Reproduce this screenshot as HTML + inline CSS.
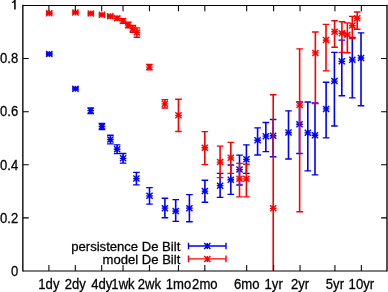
<!DOCTYPE html>
<html><head><meta charset="utf-8"><title>chart</title>
<style>html,body{margin:0;padding:0;background:#fff;width:388px;height:292px;overflow:hidden}svg{display:block;will-change:transform;font-family:"Liberation Sans",sans-serif}</style>
</head><body>
<svg width="388" height="292" viewBox="0 0 388 292">
<rect width="388" height="292" fill="#fff"/>
<path d="M49.25 53.00V55.00M75.45 87.50V89.90M90.70 107.80V113.50M101.90 123.50V129.50M110.40 135.20V143.80M117.10 144.80V153.60M123.10 153.50V163.10M136.40 172.40V184.80M149.50 187.55V204.05M164.90 198.25V217.70M175.70 199.60V221.35M189.40 194.60V221.70M204.90 180.20V202.20M220.10 173.30V197.40M230.80 165.00V194.30M239.50 155.10V185.00M246.40 144.80V173.30M257.60 127.80V155.00M265.85 122.50V151.60M273.10 119.50V156.70M288.50 110.80V159.00M299.50 101.80V153.50M307.80 102.00V170.90M315.00 103.00V174.90M326.10 82.20V137.90M334.40 52.40V126.00M341.80 40.10V95.70M352.30 37.40V97.90M361.00 32.80V105.70" stroke="#0000ff" stroke-width="1.6" fill="none"/><path d="M45.95 53.00H52.55M45.95 55.00H52.55M45.95 54.00H52.55M49.25 51.00V57.00M46.15 51.00L52.35 57.00M46.15 57.00L52.35 51.00M72.15 87.50H78.75M72.15 89.90H78.75M72.15 88.70H78.75M75.45 85.70V91.70M72.35 85.70L78.55 91.70M72.35 91.70L78.55 85.70M87.40 107.80H94.00M87.40 113.50H94.00M87.40 110.65H94.00M90.70 107.65V113.65M87.60 107.65L93.80 113.65M87.60 113.65L93.80 107.65M98.60 123.50H105.20M98.60 129.50H105.20M98.60 126.50H105.20M101.90 123.50V129.50M98.80 123.50L105.00 129.50M98.80 129.50L105.00 123.50M107.10 135.20H113.70M107.10 143.80H113.70M107.10 139.50H113.70M110.40 136.50V142.50M107.30 136.50L113.50 142.50M107.30 142.50L113.50 136.50M113.80 144.80H120.40M113.80 153.60H120.40M113.80 149.20H120.40M117.10 146.20V152.20M114.00 146.20L120.20 152.20M114.00 152.20L120.20 146.20M119.80 153.50H126.40M119.80 163.10H126.40M119.80 158.30H126.40M123.10 155.30V161.30M120.00 155.30L126.20 161.30M120.00 161.30L126.20 155.30M133.10 172.40H139.70M133.10 184.80H139.70M133.10 178.60H139.70M136.40 175.60V181.60M133.30 175.60L139.50 181.60M133.30 181.60L139.50 175.60M146.20 187.55H152.80M146.20 204.05H152.80M146.20 195.80H152.80M149.50 192.80V198.80M146.40 192.80L152.60 198.80M146.40 198.80L152.60 192.80M161.60 198.25H168.20M161.60 217.70H168.20M161.60 208.15H168.20M164.90 205.15V211.15M161.80 205.15L168.00 211.15M161.80 211.15L168.00 205.15M172.40 199.60H179.00M172.40 221.35H179.00M172.40 210.95H179.00M175.70 207.95V213.95M172.60 207.95L178.80 213.95M172.60 213.95L178.80 207.95M186.10 194.60H192.70M186.10 221.70H192.70M186.10 208.15H192.70M189.40 205.15V211.15M186.30 205.15L192.50 211.15M186.30 211.15L192.50 205.15M201.60 180.20H208.20M201.60 202.20H208.20M201.60 191.10H208.20M204.90 188.10V194.10M201.80 188.10L208.00 194.10M201.80 194.10L208.00 188.10M216.80 173.30H223.40M216.80 197.40H223.40M216.80 185.65H223.40M220.10 182.65V188.65M217.00 182.65L223.20 188.65M217.00 188.65L223.20 182.65M227.50 165.00H234.10M227.50 194.30H234.10M227.50 179.70H234.10M230.80 176.70V182.70M227.70 176.70L233.90 182.70M227.70 182.70L233.90 176.70M236.20 155.10H242.80M236.20 185.00H242.80M236.20 169.60H242.80M239.50 166.60V172.60M236.40 166.60L242.60 172.60M236.40 172.60L242.60 166.60M243.10 144.80H249.70M243.10 173.30H249.70M243.10 159.30H249.70M246.40 156.30V162.30M243.30 156.30L249.50 162.30M243.30 162.30L249.50 156.30M254.30 127.80H260.90M254.30 155.00H260.90M254.30 140.20H260.90M257.60 137.20V143.20M254.50 137.20L260.70 143.20M254.50 143.20L260.70 137.20M262.55 122.50H269.15M262.55 151.60H269.15M262.55 136.15H269.15M265.85 133.15V139.15M262.75 133.15L268.95 139.15M262.75 139.15L268.95 133.15M269.80 119.50H276.40M269.80 156.70H276.40M269.80 135.70H276.40M273.10 132.70V138.70M270.00 132.70L276.20 138.70M270.00 138.70L276.20 132.70M285.20 110.80H291.80M285.20 159.00H291.80M285.20 132.60H291.80M288.50 129.60V135.60M285.40 129.60L291.60 135.60M285.40 135.60L291.60 129.60M296.20 101.80H302.80M296.20 153.50H302.80M296.20 124.20H302.80M299.50 121.20V127.20M296.40 121.20L302.60 127.20M296.40 127.20L302.60 121.20M304.50 102.00H311.10M304.50 170.90H311.10M304.50 132.80H311.10M307.80 129.80V135.80M304.70 129.80L310.90 135.80M304.70 135.80L310.90 129.80M311.70 103.00H318.30M311.70 174.90H318.30M311.70 135.20H318.30M315.00 132.20V138.20M311.90 132.20L318.10 138.20M311.90 138.20L318.10 132.20M322.80 82.20H329.40M322.80 137.90H329.40M322.80 108.90H329.40M326.10 105.90V111.90M323.00 105.90L329.20 111.90M323.00 111.90L329.20 105.90M331.10 52.40H337.70M331.10 126.00H337.70M331.10 81.10H337.70M334.40 78.10V84.10M331.30 78.10L337.50 84.10M331.30 84.10L337.50 78.10M338.50 40.10H345.10M338.50 95.70H345.10M338.50 61.30H345.10M341.80 58.30V64.30M338.70 58.30L344.90 64.30M338.70 64.30L344.90 58.30M349.00 37.40H355.60M349.00 97.90H355.60M349.00 59.80H355.60M352.30 56.80V62.80M349.20 56.80L355.40 62.80M349.20 62.80L355.40 56.80M357.70 32.80H364.30M357.70 105.70H364.30M357.70 58.00H364.30M361.00 55.00V61.00M357.90 55.00L364.10 61.00M357.90 61.00L364.10 55.00" stroke="#0000ff" stroke-width="1.35" fill="none"/>
<path d="M49.25 12.20V14.20M75.45 11.50V13.60M90.80 12.30V14.50M101.95 13.60V16.00M110.30 14.90V17.70M117.20 16.50V20.10M123.00 18.60V23.20M128.20 22.10V27.90M132.90 25.40V32.20M136.90 27.90V37.20M149.40 64.40V69.80M164.85 99.60V108.00M178.45 99.20V131.50M204.80 131.55V164.55M220.10 146.05V177.60M230.80 142.30V173.30M239.50 163.40V196.80M246.40 164.20V196.80M273.20 94.70V271.00M299.65 48.80V211.70M315.35 32.00V103.50M326.00 24.40V70.80M334.60 20.70V47.25M341.90 21.70V52.45M347.35 22.90V52.70M352.30 16.40V38.60M357.20 12.00V29.20" stroke="#ff0000" stroke-width="1.6" fill="none"/><path d="M45.95 12.20H52.55M45.95 14.20H52.55M45.95 13.20H52.55M49.25 10.20V16.20M46.15 10.20L52.35 16.20M46.15 16.20L52.35 10.20M72.15 11.50H78.75M72.15 13.60H78.75M72.15 12.55H78.75M75.45 9.55V15.55M72.35 9.55L78.55 15.55M72.35 15.55L78.55 9.55M87.50 12.30H94.10M87.50 14.50H94.10M87.50 13.40H94.10M90.80 10.40V16.40M87.70 10.40L93.90 16.40M87.70 16.40L93.90 10.40M98.65 13.60H105.25M98.65 16.00H105.25M98.65 14.80H105.25M101.95 11.80V17.80M98.85 11.80L105.05 17.80M98.85 17.80L105.05 11.80M107.00 14.90H113.60M107.00 17.70H113.60M107.00 16.30H113.60M110.30 13.30V19.30M107.20 13.30L113.40 19.30M107.20 19.30L113.40 13.30M113.90 16.50H120.50M113.90 20.10H120.50M113.90 18.30H120.50M117.20 15.30V21.30M114.10 15.30L120.30 21.30M114.10 21.30L120.30 15.30M119.70 18.60H126.30M119.70 23.20H126.30M119.70 20.90H126.30M123.00 17.90V23.90M119.90 17.90L126.10 23.90M119.90 23.90L126.10 17.90M124.90 22.10H131.50M124.90 27.90H131.50M124.90 25.00H131.50M128.20 22.00V28.00M125.10 22.00L131.30 28.00M125.10 28.00L131.30 22.00M129.60 25.40H136.20M129.60 32.20H136.20M129.60 28.80H136.20M132.90 25.80V31.80M129.80 25.80L136.00 31.80M129.80 31.80L136.00 25.80M133.60 27.90H140.20M133.60 37.20H140.20M133.60 32.50H140.20M136.90 29.50V35.50M133.80 29.50L140.00 35.50M133.80 35.50L140.00 29.50M146.10 64.40H152.70M146.10 69.80H152.70M146.10 67.10H152.70M149.40 64.10V70.10M146.30 64.10L152.50 70.10M146.30 70.10L152.50 64.10M161.55 99.60H168.15M161.55 108.00H168.15M161.55 103.80H168.15M164.85 100.80V106.80M161.75 100.80L167.95 106.80M161.75 106.80L167.95 100.80M175.15 99.20H181.75M175.15 131.50H181.75M175.15 115.35H181.75M178.45 112.35V118.35M175.35 112.35L181.55 118.35M175.35 118.35L181.55 112.35M201.50 131.55H208.10M201.50 164.55H208.10M201.50 147.70H208.10M204.80 144.70V150.70M201.70 144.70L207.90 150.70M201.70 150.70L207.90 144.70M216.80 146.05H223.40M216.80 177.60H223.40M216.80 162.10H223.40M220.10 159.10V165.10M217.00 159.10L223.20 165.10M217.00 165.10L223.20 159.10M227.50 142.30H234.10M227.50 173.30H234.10M227.50 157.80H234.10M230.80 154.80V160.80M227.70 154.80L233.90 160.80M227.70 160.80L233.90 154.80M236.20 163.40H242.80M236.20 196.80H242.80M236.20 178.85H242.80M239.50 175.85V181.85M236.40 175.85L242.60 181.85M236.40 181.85L242.60 175.85M243.10 164.20H249.70M243.10 196.80H249.70M243.10 178.85H249.70M246.40 175.85V181.85M243.30 175.85L249.50 181.85M243.30 181.85L249.50 175.85M269.90 94.70H276.50M269.90 208.30H276.50M273.20 205.30V211.30M270.10 205.30L276.30 211.30M270.10 211.30L276.30 205.30M296.35 48.80H302.95M296.35 211.70H302.95M296.35 105.10H302.95M299.65 102.10V108.10M296.55 102.10L302.75 108.10M296.55 108.10L302.75 102.10M312.05 32.00H318.65M312.05 103.50H318.65M312.05 52.90H318.65M315.35 49.90V55.90M312.25 49.90L318.45 55.90M312.25 55.90L318.45 49.90M322.70 24.40H329.30M322.70 70.80H329.30M322.70 40.10H329.30M326.00 37.10V43.10M322.90 37.10L329.10 43.10M322.90 43.10L329.10 37.10M331.30 20.70H337.90M331.30 47.25H337.90M331.30 31.75H337.90M334.60 28.75V34.75M331.50 28.75L337.70 34.75M331.50 34.75L337.70 28.75M338.60 21.70H345.20M338.60 52.45H345.20M338.60 33.20H345.20M341.90 30.20V36.20M338.80 30.20L345.00 36.20M338.80 36.20L345.00 30.20M344.05 22.90H350.65M344.05 52.70H350.65M344.05 34.80H350.65M347.35 31.80V37.80M344.25 31.80L350.45 37.80M344.25 37.80L350.45 31.80M349.00 16.40H355.60M349.00 38.60H355.60M349.00 25.60H355.60M352.30 22.60V28.60M349.20 22.60L355.40 28.60M349.20 28.60L355.40 22.60M353.90 12.00H360.50M353.90 29.20H360.50M353.90 18.20H360.50M357.20 15.20V21.20M354.10 15.20L360.30 21.20M354.10 21.20L360.30 15.20" stroke="#ff0000" stroke-width="1.35" fill="none"/>
<path d="M188.5 246.0H226.0M188.5 242.7V249.3M226.0 242.7V249.3M204.00 246.00H210.60M207.30 243.00V249.00M204.20 243.00L210.40 249.00M204.20 249.00L210.40 243.00" stroke="#0000ff" stroke-width="1.4" fill="none"/>
<path d="M188.5 258.9H226.0M188.5 255.59999999999997V262.2M226.0 255.59999999999997V262.2M204.00 258.90H210.60M207.30 255.90V261.90M204.20 255.90L210.40 261.90M204.20 261.90L210.40 255.90" stroke="#ff0000" stroke-width="1.4" fill="none"/>
<path d="M22.85 4.8500000000000005V271.6M387.0 4.8500000000000005V271.6" stroke="#000" stroke-width="1.35" fill="none"/>
<path d="M22.85 5.45H387.0M22.85 271.0H387.0" stroke="#000" stroke-width="1.12" fill="none"/>
<path d="M48.90 271.0V265.1M48.90 5.45V11.350000000000001M75.30 271.0V265.1M75.30 5.45V11.350000000000001M101.70 271.0V265.1M101.70 5.45V11.350000000000001M123.02 271.0V265.1M123.02 5.45V11.350000000000001M149.42 271.0V265.1M149.42 5.45V11.350000000000001M178.44 271.0V265.1M178.44 5.45V11.350000000000001M204.84 271.0V265.1M204.84 5.45V11.350000000000001M246.69 271.0V265.1M246.69 5.45V11.350000000000001M273.64 271.0V265.1M273.64 5.45V11.350000000000001M300.04 271.0V265.1M300.04 5.45V11.350000000000001M334.93 271.0V265.1M334.93 5.45V11.350000000000001M361.34 271.0V265.1M361.34 5.45V11.350000000000001M22.85 217.89H28.75M387.0 217.89H381.1M22.85 164.78H28.75M387.0 164.78H381.1M22.85 111.67H28.75M387.0 111.67H381.1M22.85 58.56H28.75M387.0 58.56H381.1" stroke="#000" stroke-width="1.05" fill="none"/>
<g font-family="Liberation Sans, sans-serif" font-size="14.5px" fill="#000" stroke="#000" stroke-width="0.28">
<text transform="translate(18.20 275.75) scale(0.9 1)" text-anchor="end">0</text>
<text transform="translate(18.20 222.64) scale(0.9 1)" text-anchor="end">0.2</text>
<text transform="translate(18.20 169.53) scale(0.9 1)" text-anchor="end">0.4</text>
<text transform="translate(18.20 116.42) scale(0.9 1)" text-anchor="end">0.6</text>
<text transform="translate(18.20 63.31) scale(0.9 1)" text-anchor="end">0.8</text>
<text transform="translate(48.90 289.40) scale(0.905 1)" text-anchor="middle">1dy</text>
<text transform="translate(75.30 289.40) scale(0.905 1)" text-anchor="middle">2dy</text>
<text transform="translate(101.70 289.40) scale(0.905 1)" text-anchor="middle">4dy</text>
<text transform="translate(123.02 289.40) scale(0.905 1)" text-anchor="middle">1wk</text>
<text transform="translate(149.42 289.40) scale(0.905 1)" text-anchor="middle">2wk</text>
<text transform="translate(178.44 289.40) scale(0.905 1)" text-anchor="middle">1mo</text>
<text transform="translate(204.84 289.40) scale(0.905 1)" text-anchor="middle">2mo</text>
<text transform="translate(246.69 289.40) scale(0.905 1)" text-anchor="middle">6mo</text>
<text transform="translate(273.64 289.40) scale(0.905 1)" text-anchor="middle">1yr</text>
<text transform="translate(300.04 289.40) scale(0.905 1)" text-anchor="middle">2yr</text>
<text transform="translate(334.93 289.40) scale(0.905 1)" text-anchor="middle">5yr</text>
<text transform="translate(361.34 289.40) scale(0.905 1)" text-anchor="middle">10yr</text>
<text transform="translate(180.30 250.50) scale(0.97 1)" text-anchor="end" font-size="13.5px">persistence De Bilt</text>
<text transform="translate(180.30 263.90) scale(0.97 1)" text-anchor="end" font-size="13.5px">model De Bilt</text>
</g>
<path d="M14.15 -1H15.7V9.45H14.15Z" fill="#000"/><path d="M11.9 2.4C13.1 2.4 14.0 2.0 14.5 0.5" stroke="#000" stroke-width="1.15" fill="none"/>
</svg>
</body></html>
